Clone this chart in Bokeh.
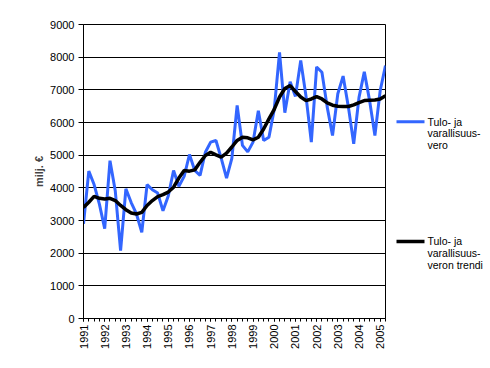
import math
from bokeh.plotting import figure
from bokeh.models import Range1d, FixedTicker
from bokeh.layouts import row
from bokeh.embed import file_html
from bokeh.resources import INLINE
from bokeh.core.properties import value

# Quarterly data 1991Q1 .. 2005Q2 (million euro)
years = list(range(1991, 2006))
tax = [2900, 4510, 4100, 3500, 2750, 4830, 3900, 2080, 3970, 3550, 3200, 2640,
       4100, 3940, 3840, 3300, 3750, 4530, 4050, 4350, 5020, 4530, 4380, 5090,
       5400, 5450, 4900, 4300, 4900, 6520, 5300, 5100, 5400, 6360, 5450, 5550,
       6400, 8150, 6300, 7250, 6800, 7900, 6800, 5400, 7700, 7540, 6470, 5600,
       6880, 7420, 6470, 5350, 6770, 7550, 6670, 5600, 6980, 7740]
trend = [3400, 3560, 3740, 3680, 3660, 3680, 3610, 3460, 3330, 3230, 3200, 3250,
         3460, 3610, 3730, 3790, 3870, 4020, 4300, 4530, 4510, 4550, 4780, 4990,
         5090, 5010, 4940, 5060, 5250, 5450, 5550, 5530, 5470, 5550, 5800, 6110,
         6400, 6780, 7040, 7130, 6950, 6780, 6670, 6720, 6790, 6720, 6600, 6530,
         6500, 6490, 6490, 6540, 6610, 6670, 6680, 6690, 6720, 6820]
y_ticks = list(range(0, 9001, 1000))
legend_tax = ["Tulo- ja", "varallisuus-", "vero"]
legend_trend = ["Tulo- ja", "varallisuus-", "veron trendi"]
y_label = "milj. €"

FONT = "Liberation Sans"
BLUE = "#3366FF"

n = len(tax)
xs = list(range(n))

p = figure(width=387, height=360, output_backend="svg", toolbar_location=None,
           x_range=Range1d(0, n - 1), y_range=Range1d(0, 9000),
           min_border_left=83, min_border_right=2, min_border_top=24, min_border_bottom=42)
p.background_fill_color = "white"
p.border_fill_color = "white"
p.outline_line_color = "black"
p.outline_line_width = 1

# y axis
p.yaxis.ticker = FixedTicker(ticks=y_ticks)
p.yaxis.major_tick_out = 5
p.yaxis.major_tick_in = 0
p.yaxis.minor_tick_out = 0
p.yaxis.minor_tick_in = 0
p.yaxis.major_label_standoff = 4
p.yaxis.major_label_text_font = FONT
p.yaxis.major_label_text_font_size = "11px"
p.yaxis.major_label_text_color = "black"
p.yaxis.axis_label = y_label
p.yaxis.axis_label_text_font = FONT
p.yaxis.axis_label_text_font_size = "11px"
p.yaxis.axis_label_text_font_style = "bold"
p.yaxis.axis_label_standoff = 2
p.yaxis.axis_line_color = "black"

# x axis: a tick per quarter, a label per year
major = [4 * i for i in range(len(years))]
p.xaxis.ticker = FixedTicker(ticks=major, minor_ticks=xs)
p.xaxis.major_label_overrides = {4 * i: str(y) for i, y in enumerate(years)}
p.xaxis.major_label_orientation = math.pi / 2
p.xaxis.major_tick_out = 3
p.xaxis.major_tick_in = 0
p.xaxis.minor_tick_out = 3
p.xaxis.minor_tick_in = 0
p.xaxis.major_label_standoff = 3
p.xaxis.major_label_text_font = FONT
p.xaxis.major_label_text_font_size = "11px"
p.xaxis.major_label_text_color = "black"
p.xaxis.axis_line_color = "black"

p.ygrid.ticker = FixedTicker(ticks=y_ticks[1:])
p.ygrid.grid_line_color = "black"
p.ygrid.grid_line_width = 1
p.xgrid.grid_line_color = None

p.line(xs, tax, line_color=BLUE, line_width=3)
p.line(xs, trend, line_color="black", line_width=3.5)

# legend panel
lg = figure(width=103, height=360, output_backend="svg", toolbar_location=None,
            x_range=Range1d(0, 103), y_range=Range1d(360, 0),
            x_axis_type=None, y_axis_type=None,
            min_border_left=0, min_border_right=0, min_border_top=0, min_border_bottom=0)
lg.outline_line_color = None
lg.grid.grid_line_color = None
lg.background_fill_color = "white"
lg.border_fill_color = "white"

def legend_entry(y0, color, width, lines):
    lg.line([9, 37], [y0, y0], line_color=color, line_width=width)
    lg.text([40] * len(lines), [y0 + 14.3 * k for k in range(len(lines))], text=lines,
            text_font=value(FONT), text_font_size="10.5px", text_color="black",
            text_baseline="middle", text_align="left")

legend_entry(119, BLUE, 3, legend_tax)
legend_entry(265.7, "black", 3.5, legend_trend)

layout = row(p, lg)
open("out.html", "w").write(file_html(layout, INLINE))
